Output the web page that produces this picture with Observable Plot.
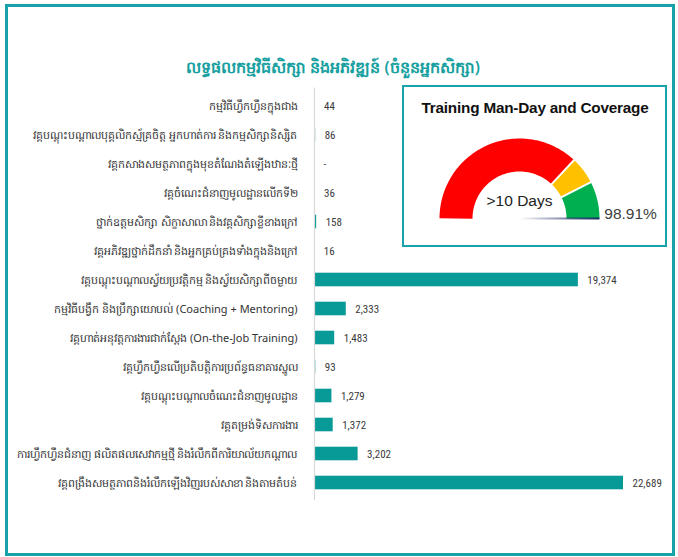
<!DOCTYPE html>
<html>
<head>
<meta charset="utf-8">
<script src="https://cdn.jsdelivr.net/npm/d3@7"></script>
<script src="https://cdn.jsdelivr.net/npm/@observablehq/plot@0.6"></script>
<style>
  html, body { margin: 0; padding: 0; background: #fff; }
  #wrap { position: relative; width: 678px; height: 557px; overflow: hidden; background: #fff; font-family: "Noto Sans", "DejaVu Sans", sans-serif; }
  #frame { position: absolute; left: 5px; top: 4px; width: 664px; height: 546px; border: 3px solid #17a3a9; }
  #title { position: absolute; left: 0; width: 666px; top: 56px; text-align: center; color: #17a09f; font-size: 16px; font-weight: 600; }
  #box { position: absolute; left: 402px; top: 85px; width: 261px; height: 158px; border: 2.5px solid #17a3a9; background: #fff; }
  #boxTitle { position: absolute; left: 402px; top: 99px; width: 266px; text-align: center; font-family: "Liberation Sans", Arial, sans-serif; font-weight: bold; font-size: 15.3px; color: #111; letter-spacing: -0.2px; }
  svg { position: absolute; left: 0; top: 0; }
</style>
</head>
<body>
<div id="wrap">
  <div id="frame"></div>
  <div id="title"></div>
</div>
<script>
// ---- data ----
const chartTitle = "លទ្ធផលកម្មវិធីសិក្សា និងអភិវឌ្ឍន៍ (ចំនួនអ្នកសិក្សា)";
const categories = [
  "កម្មវិធីហ្វឹកហ្វឺនក្នុងជាង",
  "វគ្គបណ្តុះបណ្តាលបុគ្គលិកស្ម័គ្រចិត្ត អ្នកហាត់ការ និងកម្មសិក្សានិស្សិត",
  "វគ្គកសាងសមត្ថភាពក្នុងមុខតំណែងតំឡើងឋានៈថ្មី",
  "វគ្គចំណេះជំនាញមូលដ្ឋានលើកទី២",
  "ថ្នាក់ឧត្តមសិក្សា សិក្ខាសាលា និងវគ្គសិក្សាខ្លីខាងក្រៅ",
  "វគ្គអភិវឌ្ឍថ្នាក់ដឹកនាំ និងអ្នកគ្រប់គ្រងទាំងក្នុងនិងក្រៅ",
  "វគ្គបណ្តុះបណ្តាលស្វ័យប្រវត្តិកម្ម និងស្វ័យសិក្សាពីចម្ងាយ",
  "កម្មវិធីបង្វឹក និងប្រឹក្សាយោបល់ (Coaching + Mentoring)",
  "វគ្គហាត់អនុវត្តការងារជាក់ស្តែង (On-the-Job Training)",
  "វគ្គហ្វឹកហ្វឺនលើប្រតិបត្តិការប្រព័ន្ធធនាគារស្នូល",
  "វគ្គបណ្តុះបណ្តាលចំណេះជំនាញមូលដ្ឋាន",
  "វគ្គតម្រង់ទិសការងារ",
  "ការហ្វឹកហ្វឺនជំនាញ ផលិតផលសេវាកម្មថ្មី និងរំលឹកពីការិយាល័យកណ្តាល",
  "វគ្គពង្រឹងសមត្ថភាពនិងរំលឹកឡើងវិញរបស់សាខា និងតាមតំបន់"
];
const learners = [44, 86, null, 36, 158, 16, 19374, 2333, 1483, 93, 1279, 1372, 3202, 22689];

const gaugeTitle = "Training Man-Day and Coverage";
const gaugeBands = ["Red", "Amber", "Green"];
const gaugeShares = [73.9, 11.1, 15.0];
const manDayLabel = ">10 Days";
const coverage = 98.91;

// ---- build ----
const wrap = document.getElementById("wrap");
document.getElementById("title").textContent = chartTitle;

const rows = categories.map((c, i) => ({category: c, value: learners[i]}));
const fmt = d3.format(",");

const main = Plot.plot({
  width: 678,
  height: 557,
  marginLeft: 314,
  marginRight: 55,
  marginTop: 87.5,
  marginBottom: 57,
  style: {background: "transparent", overflow: "visible"},
  x: {domain: [0, 22689], axis: null},
  y: {domain: categories, padding: 0, label: null},
  marks: [
    Plot.barX(rows.filter(d => d.value != null), {x: "value", y: "category", fill: "#079a97", insetTop: 7.7, insetBottom: 7.7}),
    Plot.ruleX([0], {stroke: "#d9d9d9", strokeWidth: 1.2}),
    Plot.axisY({tickSize: 0, tickPadding: 17, fontSize: 11, fill: "#333",
      fontFamily: "'Noto Sans', 'DejaVu Sans', sans-serif", label: null}),
    Plot.text(rows, {x: d => d.value ?? 0, y: "category", text: d => d.value == null ? "-" : fmt(d.value),
      dx: 9, textAnchor: "start", fontSize: 11, fill: "#3a3a3a",
      fontFamily: "'Liberation Sans Narrow', 'Roboto Condensed', 'Liberation Sans', Arial, sans-serif"})
  ]
});
wrap.appendChild(main);

const box = document.createElement("div"); box.id = "box"; wrap.appendChild(box);
const bt = document.createElement("div"); bt.id = "boxTitle"; bt.textContent = gaugeTitle; wrap.appendChild(bt);

// gauge geometry from band shares
const rOut = 1, rIn = 47 / 80, rMid = (rOut + rIn) / 2;
const total = d3.sum(gaugeShares);
let acc = 0;
const arcPts = [];
const seps = [];
gaugeBands.forEach((b, i) => {
  const a0 = Math.PI * (1 - acc / total);
  acc += gaugeShares[i];
  const a1 = Math.PI * (1 - acc / total);
  const n = 60;
  for (let k = 0; k <= n; k++) {
    const a = a0 + (a1 - a0) * k / n;
    arcPts.push({band: b, x: rMid * Math.cos(a), y: rMid * Math.sin(a)});
  }
  if (i < gaugeBands.length - 1) seps.push(a1);
});
const needleAngle = Math.PI * (1 - coverage / 100);

const gauge = Plot.plot({
  width: 266,
  height: 163,
  margin: 0,
  style: {background: "transparent", overflow: "visible"},
  x: {domain: [-1, 1], range: [37, 197], axis: null},
  y: {domain: [0, 1], range: [133, 53], axis: null},
  color: {domain: gaugeBands, range: ["#ff0000", "#ffc000", "#00b050"]},
  marks: [
    Plot.line(arcPts, {x: "x", y: "y", z: "band", stroke: "band", strokeWidth: 33, strokeLinecap: "butt", strokeLinejoin: "round"}),
    Plot.link(seps, {x1: a => rIn * 0.98 * Math.cos(a), y1: a => rIn * 0.98 * Math.sin(a),
      x2: a => rOut * 1.03 * Math.cos(a), y2: a => rOut * 1.03 * Math.sin(a), stroke: "white", strokeWidth: 2}),
    Plot.link([coverage], {x1: 0, y1: 0, x2: () => rOut * Math.cos(needleAngle), y2: () => rOut * Math.sin(needleAngle) * 0,
      stroke: "url(#needleGrad)", strokeWidth: 2.2}),
    Plot.text([manDayLabel], {x: 0, y: 0.22, text: d => d, fontSize: 15.5, fill: "#222",
      fontFamily: "'Liberation Sans', Arial, sans-serif"}),
    Plot.text([coverage], {x: 1.06, y: 0.05, text: d => d3.format(".2f")(d) + "%", textAnchor: "start",
      fontSize: 15.5, fill: "#404040", fontFamily: "'Liberation Sans', Arial, sans-serif"})
  ]
});
gauge.style.left = "402px";
gauge.style.top = "85px";
// gradient for needle
const sx = gauge.scale("x");
const ns = "http://www.w3.org/2000/svg";
const defs = document.createElementNS(ns, "defs");
const lg = document.createElementNS(ns, "linearGradient");
lg.setAttribute("id", "needleGrad");
lg.setAttribute("gradientUnits", "userSpaceOnUse");
lg.setAttribute("x1", sx.apply(0)); lg.setAttribute("x2", sx.apply(1));
lg.setAttribute("y1", 0); lg.setAttribute("y2", 0);
[["0%", "#1b2a66", 0], ["100%", "#1b2a66", 1]].forEach(([o, c, op]) => {
  const s = document.createElementNS(ns, "stop");
  s.setAttribute("offset", o); s.setAttribute("stop-color", c); s.setAttribute("stop-opacity", op);
  lg.appendChild(s);
});
defs.appendChild(lg);
gauge.insertBefore(defs, gauge.firstChild);
wrap.appendChild(gauge);
</script>
</body>
</html>
